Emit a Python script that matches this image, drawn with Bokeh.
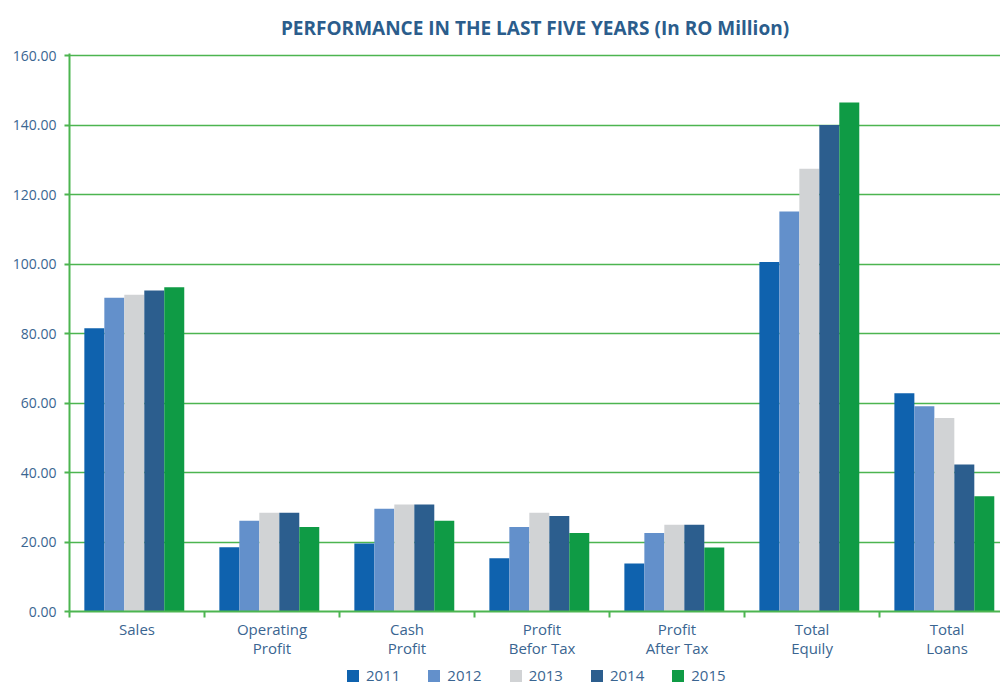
from bokeh.plotting import figure
from bokeh.layouts import column
from bokeh.models import (Range1d, FixedTicker, PrintfTickFormatter, Legend, LegendItem,
                          ColumnDataSource, Title)
from bokeh.transform import dodge
from bokeh.embed import file_html
from bokeh.resources import INLINE

categories = ["Sales", "Operating\nProfit", "Cash\nProfit", "Profit\nBefor Tax",
              "Profit\nAfter Tax", "Total\nEquily", "Total\nLoans"]
years = ["2011", "2012", "2013", "2014", "2015"]
v2011 = [81.5, 18.5, 19.6, 15.3, 13.8, 100.6, 62.8]
v2012 = [90.3, 26.1, 29.6, 24.3, 22.6, 115.1, 59.1]
v2013 = [91.2, 28.4, 30.8, 28.4, 25.0, 127.4, 55.7]
v2014 = [92.4, 28.4, 30.8, 27.5, 25.0, 140.0, 42.3]
v2015 = [93.3, 24.3, 26.1, 22.6, 18.4, 146.5, 33.2]
y_ticks = [0, 20, 40, 60, 80, 100, 120, 140, 160]

series = [v2011, v2012, v2013, v2014, v2015]
colors = ["#0f62ae", "#6390cb", "#d1d3d5", "#2c5e8e", "#0f9b45"]
FONT = "Open Sans"
TXT = "#3a6591"
GREEN = "#4cb550"

idx = list(range(len(categories)))
data = {"x": idx}
for y, s in zip(years, series):
    data["y" + y] = s
src = ColumnDataSource(data)

p = figure(width=1000, height=660, output_backend="svg", toolbar_location=None,
           x_range=Range1d(-0.5, 6.396), y_range=Range1d(0, 160.6),
           min_border_left=69, min_border_right=0, min_border_top=53, min_border_bottom=49)
p.outline_line_color = None
p.background_fill_color = "white"

bw = 0.148
for i, (y, c) in enumerate(zip(years, colors)):
    p.vbar(x=dodge("x", (i - 2) * bw - 0.02, range=p.x_range), top="y" + y,
           width=bw, source=src, fill_color=c, line_color=None)

# title
p.title = Title(text="PERFORMANCE IN THE LAST FIVE YEARS (In RO Million)", align="center",
                text_font=FONT, text_font_size="19px", text_font_style="bold",
                text_color="#2b5d8c", standoff=25)

# y axis
p.yaxis.ticker = FixedTicker(ticks=y_ticks)
p.yaxis.formatter = PrintfTickFormatter(format="%.2f")
p.yaxis.axis_line_color = GREEN
p.yaxis.axis_line_width = 2
p.yaxis.major_tick_line_color = GREEN
p.yaxis.major_tick_line_width = 2
p.yaxis.major_tick_out = 5
p.yaxis.major_tick_in = 0
p.yaxis.minor_tick_line_color = None
p.yaxis.major_label_text_font = FONT
p.yaxis.major_label_text_font_size = "14px"
p.yaxis.major_label_text_color = TXT
p.yaxis.major_label_standoff = 8

# x axis
p.xaxis.ticker = FixedTicker(ticks=idx, minor_ticks=[i - 0.5 for i in idx] + [len(idx) - 0.5])
p.xaxis.major_label_overrides = {i: c for i, c in enumerate(categories)}
p.xaxis.axis_line_color = GREEN
p.xaxis.axis_line_width = 2
p.xaxis.major_tick_line_color = None
p.xaxis.major_tick_out = 0
p.xaxis.major_tick_in = 0
p.xaxis.minor_tick_line_color = GREEN
p.xaxis.minor_tick_line_width = 2
p.xaxis.minor_tick_out = 6
p.xaxis.minor_tick_in = 0
p.xaxis.major_label_text_font = FONT
p.xaxis.major_label_text_font_size = "15px"
p.xaxis.major_label_text_line_height = 0.95
p.xaxis.major_label_text_color = TXT
p.xaxis.major_label_standoff = 1

p.xgrid.grid_line_color = None
p.ygrid.ticker = FixedTicker(ticks=y_ticks)
p.ygrid.grid_line_color = GREEN
p.ygrid.grid_line_width = 1.5

# legend strip (its bars lie outside its own view; only the legend shows)
lg = figure(width=1000, height=24, output_backend="svg", toolbar_location=None,
            x_range=Range1d(100, 101), y_range=Range1d(1000, 1001), x_axis_type=None,
            y_axis_type=None, min_border=0)
lg.outline_line_color = None
lg.grid.grid_line_color = None
items = []
for y, c in zip(years, colors):
    r = lg.vbar(x="x", top="y" + y, width=bw, source=src, fill_color=c, line_color=None)
    items.append(LegendItem(label=y, renderers=[r]))
legend = Legend(items=items, orientation="horizontal", location=(276, -1),
                glyph_width=15, glyph_height=15, label_height=15, label_standoff=6,
                spacing=26, padding=0, margin=0, border_line_color=None,
                background_fill_alpha=0, label_text_font=FONT, label_text_font_size="15px",
                label_text_color=TXT, label_text_baseline="middle")
lg.add_layout(legend, "center")

open("out.html", "w").write(file_html(column(p, lg), INLINE))
